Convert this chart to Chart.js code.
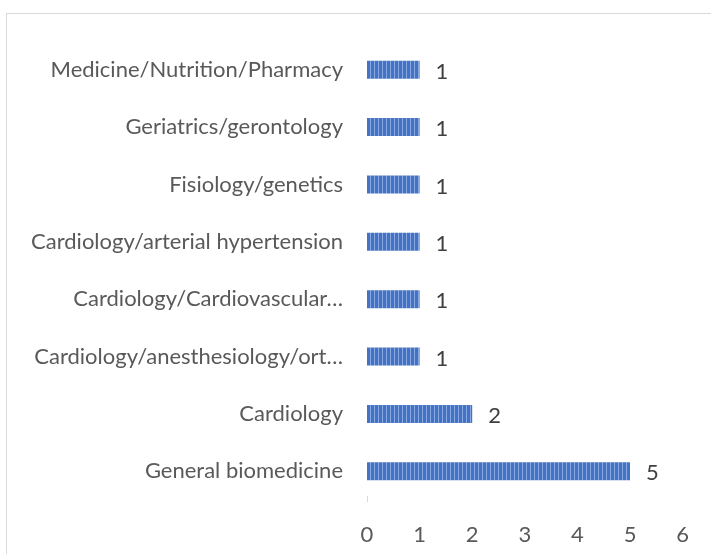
<!DOCTYPE html>
<html>
<head>
<meta charset="utf-8">
<script src="https://cdn.jsdelivr.net/npm/chart.js@4"></script>
<style>
    body { margin: 0; background: #fff; overflow: hidden; }
    .frame {
        position: absolute; left: 6px; top: 13px;
        width: 720px; height: 560px;
        border: 1px solid #d9d9d9;
    }
    .wrap { position: absolute; left: 0; top: 0; width: 711px; height: 554px; }
</style>
</head>
<body>
<div class="frame"></div>
<div class="wrap"><canvas id="chart" width="711" height="554"></canvas></div>
<script>
// ======================= Data ======================= //
const categories = [
    'Medicine/Nutrition/Pharmacy',
    'Geriatrics/gerontology',
    'Fisiology/genetics',
    'Cardiology/arterial hypertension',
    'Cardiology/Cardiovascular…',
    'Cardiology/anesthesiology/ort…',
    'Cardiology',
    'General biomedicine'
];
const counts = [1, 1, 1, 1, 1, 1, 2, 5];
const xTicks = [0, 1, 2, 3, 4, 5, 6];

// ======================= Striped bar fill ======================= //
function stripePattern() {
    const c = document.createElement('canvas');
    c.width = 4; c.height = 4;
    const g = c.getContext('2d');
    g.fillStyle = '#4472c4';
    g.fillRect(0, 0, 4, 4);
    g.fillStyle = '#88a8e0';
    g.fillRect(2, 0, 1, 4);
    return g.createPattern(c, 'repeat');
}

// value labels at bar ends
const valueLabels = {
    id: 'valueLabels',
    afterDatasetsDraw(chart) {
        const ctx = chart.ctx;
        const meta = chart.getDatasetMeta(0);
        ctx.save();
        ctx.font = '22px Lato';
        ctx.fillStyle = '#404040';
        ctx.textAlign = 'left';
        ctx.textBaseline = 'middle';
        meta.data.forEach((bar, i) => {
            ctx.fillText(String(counts[i]), bar.x + 16, bar.y + 2);
        });
        // little tick at origin
        const x0 = chart.scales.x.getPixelForValue(0);
        ctx.strokeStyle = '#d9d9d9';
        ctx.lineWidth = 1;
        ctx.beginPath();
        ctx.moveTo(Math.round(x0) + 0.5, chart.chartArea.bottom - 4);
        ctx.lineTo(Math.round(x0) + 0.5, chart.chartArea.bottom + 2);
        ctx.stroke();
        ctx.restore();
    }
};

const ctx = document.getElementById('chart');

new Chart(ctx, {
    type: 'bar',
    data: {
        labels: categories,
        datasets: [{
            data: counts,
            backgroundColor: stripePattern(),
            borderWidth: 0,
            barPercentage: 0.63,
            categoryPercentage: 0.5
        }]
    },
    options: {
        indexAxis: 'y',
        responsive: false,
        animation: false,
        layout: {
            padding: { top: 41, right: 26, bottom: 0, left: 0 }
        },
        scales: {
            x: {
                min: 0,
                max: 6,
                afterBuildTicks(scale) {
                    scale.ticks = xTicks.map(v => ({ value: v }));
                },
                grid: { display: false, drawTicks: false },
                border: { display: false },
                ticks: {
                    color: '#595959',
                    font: { family: 'Lato', size: 22 },
                    padding: 22
                },
                afterFit(scale) { scale.height = 54; }
            },
            y: {
                grid: { display: false, drawTicks: false },
                border: { display: false },
                ticks: {
                    color: '#595959',
                    font: { family: 'Lato', size: 22 },
                    padding: 24
                },
                afterFit(scale) { scale.width = 367; }
            }
        },
        plugins: {
            legend: { display: false },
            tooltip: { enabled: false }
        }
    },
    plugins: [valueLabels]
});
</script>
</body>
</html>
